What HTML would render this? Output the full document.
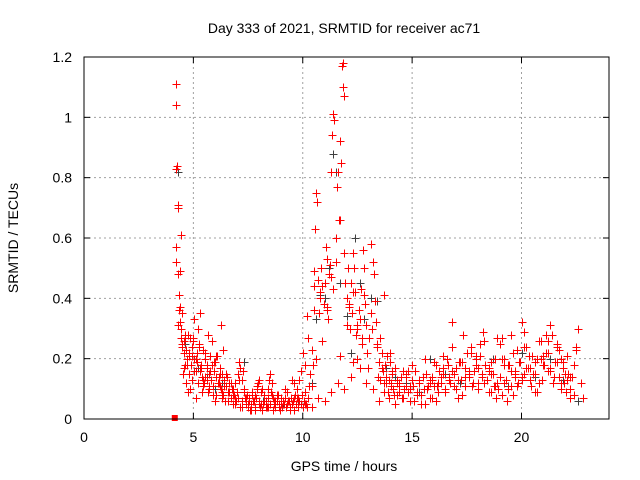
<!DOCTYPE html>
<html><head><meta charset="utf-8"><style>
body{margin:0;background:#fff;}
svg{display:block;font-family:"Liberation Sans",sans-serif;}
</style></head><body>
<svg id="chart" width="640" height="480" viewBox="0 0 640 480" xmlns="http://www.w3.org/2000/svg">
<text x="344" y="33" font-size="14" text-anchor="middle">Day 333 of 2021, SRMTID for receiver ac71</text>
<text x="344" y="471" font-size="14" text-anchor="middle">GPS time / hours</text>
<text transform="translate(18,238) rotate(-90)" font-size="14" text-anchor="middle">SRMTID / TECUs</text>
<g id="grid"></g>
<g id="ticks"></g>
<g id="black"></g>
<g id="red"></g>
<rect x="84" y="57" width="525" height="362" fill="none" stroke="#000" stroke-width="1"/>
</svg>
<script>
const xTicks=[0,5,10,15,20];
const yTicks=[0,0.2,0.4,0.6,0.8,1,1.2];
const yTickLabels=["0","0.2","0.4","0.6","0.8","1","1.2"];
const squareTime=[4.15];
const squareValue=[0.0];
const blackTimes=[4.3,4.6,5.2,5.6,6.0,6.3,6.8,7.3,8.2,9.1,9.8,10.4,10.6,10.8,11.0,11.2,11.4,11.5,11.7,12.0,12.2,12.4,12.6,12.8,13.1,13.4,13.8,14.2,14.7,15.3,15.8,16.5,17.2,18.0,18.7,19.4,20.0,20.6,21.3,21.9,22.6];
const blackValues=[0.82,0.25,0.17,0.14,0.1,0.12,0.09,0.19,0.06,0.05,0.06,0.12,0.33,0.41,0.4,0.5,0.88,0.82,0.45,0.34,0.22,0.6,0.45,0.33,0.4,0.39,0.17,0.14,0.12,0.09,0.2,0.15,0.12,0.17,0.2,0.11,0.22,0.14,0.2,0.13,0.06];
const redTimes=[
4.2,4.2,4.25,4.22,4.28,4.3,4.2,4.22,4.3,4.35,4.4,4.45,4.4,4.5,4.45,4.5,4.55,4.3,4.6,4.6,4.35,4.38,4.42,4.48,4.52,4.58,4.65,4.7,4.75,4.8,
4.85,4.9,4.95,5.0,5.05,5.1,5.15,5.2,5.25,5.3,5.35,5.4,5.45,5.5,5.55,5.6,5.65,5.7,5.75,5.8,5.85,5.9,5.95,6.0,6.05,6.1,6.15,6.2,6.25,6.3,
6.35,6.4,6.45,6.5,6.55,6.6,6.65,6.7,6.75,6.8,6.85,6.9,6.95,7.0,7.05,7.1,7.15,7.2,7.25,7.3,7.35,7.4,7.45,7.5,7.55,7.6,7.65,7.7,7.75,7.8,
7.85,7.9,7.95,8.0,8.05,8.1,8.15,8.2,8.25,8.3,8.35,8.4,8.45,8.5,8.55,8.6,8.65,8.7,8.75,8.8,8.85,8.9,8.95,9.0,9.05,9.1,9.15,9.2,9.25,9.3,
9.35,9.4,9.45,9.5,9.55,9.6,9.65,9.7,9.75,9.8,9.85,9.9,9.95,10.0,10.05,10.1,10.15,10.2,10.25,10.3,10.35,10.4,10.45,10.5,10.52,10.55,10.6,10.65,10.7,10.75,
10.8,10.85,10.9,10.95,11.0,11.05,11.1,11.15,11.2,11.25,11.3,11.35,11.4,11.45,11.5,11.55,11.6,11.65,11.7,11.75,11.8,11.82,11.85,11.9,11.95,12.0,12.05,12.1,12.15,12.2,
12.25,12.3,12.35,12.4,12.45,12.5,12.55,12.6,12.65,12.7,12.75,12.8,12.85,12.9,12.95,13.0,13.05,13.1,13.15,13.2,13.25,13.3,13.35,13.4,13.45,13.5,13.55,13.6,13.65,13.7,
13.75,13.8,13.85,13.9,13.95,14.0,14.05,14.1,14.15,14.2,14.3,14.4,14.5,14.6,14.7,14.8,14.9,15.0,15.1,15.2,15.3,15.4,15.5,15.6,15.7,15.8,15.9,16.0,16.1,16.2,
16.3,16.4,16.5,16.6,16.7,16.8,16.9,17.0,17.1,17.2,17.3,17.4,17.5,17.6,17.7,17.8,17.9,18.0,18.1,18.2,18.3,18.4,18.5,18.6,18.7,18.8,18.9,19.0,19.1,19.2,
19.3,19.4,19.5,19.6,19.7,19.8,19.9,20.0,20.1,20.2,20.3,20.4,20.5,20.6,20.7,20.8,20.9,21.0,21.1,21.2,21.3,21.4,21.5,21.6,21.7,21.8,21.9,22.0,22.1,22.2,
22.3,22.4,22.5,22.6,22.7,22.8,4.7,5.0,5.3,5.6,5.9,6.2,6.5,6.8,7.1,7.4,7.7,8.0,8.3,8.6,8.9,9.2,9.5,9.8,10.1,10.4,10.7,11.0,11.3,11.6,11.9,12.2,12.5,12.8,13.1,13.4,
13.7,14.0,14.3,14.6,14.9,15.2,15.5,15.8,16.1,16.4,16.7,17.0,17.3,17.6,17.9,18.2,18.5,18.8,19.1,19.4,19.7,20.0,20.3,20.6,20.9,21.2,21.5,21.8,22.1,22.4,
4.8,5.1,5.4,5.7,6.0,6.3,6.6,6.9,7.2,7.5,7.8,8.1,8.4,8.7,9.0,9.3,9.6,9.9,10.2,10.5,10.8,11.1,11.4,11.7,12.0,12.3,12.6,12.9,13.2,13.5,
13.8,14.1,14.4,14.7,15.0,15.3,15.6,15.9,16.2,16.5,16.8,17.1,17.4,17.7,18.0,18.3,18.6,18.9,19.2,19.5,19.8,20.1,20.4,20.7,21.0,21.3,21.6,21.9,22.2,22.5,
4.62,4.72,4.82,4.92,5.02,5.12,5.22,5.32,5.42,5.52,5.62,5.72,5.82,5.92,6.02,6.12,6.22,6.32,6.42,6.52,6.62,6.72,6.82,6.92,7.02,7.12,7.22,7.32,7.42,7.52,
7.62,7.72,7.82,7.92,8.02,8.12,8.22,8.32,8.42,8.52,8.62,8.72,8.82,8.92,9.02,9.12,9.22,9.32,9.42,9.52,9.62,9.72,9.82,9.92,10.02,10.12,10.22,10.32,10.42,10.62,
13.52,13.62,13.72,13.82,13.92,14.02,14.12,14.22,14.32,14.42,14.52,14.62,14.72,14.82,14.92,15.02,15.12,15.22,15.32,15.42,15.52,15.62,15.72,15.82,15.92,16.02,16.12,16.22,16.32,16.42,
16.52,16.62,16.72,16.82,16.92,17.02,17.12,17.22,17.32,17.42,17.52,17.62,17.72,17.82,17.92,18.02,18.12,18.22,18.32,18.42,18.52,18.62,18.72,18.82,18.92,19.02,19.12,19.22,19.32,19.42,
19.52,19.62,19.72,19.82,19.92,20.02,20.12,20.22,20.32,20.42,20.52,20.62,20.72,20.82,20.92,21.02,21.12,21.22,21.32,21.42,21.52,21.62,21.72,21.82,21.92,22.02,22.12,22.22,22.32,22.42,
22.52,22.62,22.72,22.82];
const redValues=[
1.11,1.04,0.84,0.83,0.70,0.71,0.57,0.52,0.48,0.41,0.49,0.61,0.37,0.35,0.30,0.25,0.22,0.31,0.28,0.18,0.36,0.32,0.27,0.24,0.15,0.26,0.23,0.20,0.28,0.22,
0.10,0.18,0.24,0.27,0.20,0.16,0.22,0.30,0.25,0.35,0.18,0.14,0.23,0.12,0.20,0.17,0.09,0.15,0.21,0.13,0.18,0.11,0.16,0.19,0.14,0.21,0.12,0.17,0.10,0.15,
0.08,0.13,0.06,0.11,0.14,0.09,0.12,0.07,0.10,0.05,0.08,0.12,0.06,0.09,0.15,0.19,0.17,0.13,0.16,0.10,0.07,0.05,0.08,0.04,0.06,0.03,0.05,0.08,0.06,0.04,
0.07,0.10,0.12,0.06,0.04,0.09,0.03,0.05,0.08,0.06,0.04,0.10,0.13,0.15,0.09,0.12,0.07,0.05,0.04,0.06,0.08,0.05,0.03,0.07,0.04,0.06,0.05,0.07,0.04,0.05,
0.06,0.04,0.07,0.05,0.06,0.03,0.08,0.05,0.07,0.04,0.06,0.05,0.08,0.04,0.06,0.09,0.05,0.04,0.07,0.11,0.15,0.23,0.18,0.36,0.49,0.63,0.75,0.72,0.46,0.35,
0.42,0.50,0.26,0.38,0.45,0.57,0.37,0.33,0.48,0.51,0.82,0.94,1.01,0.99,0.60,0.77,0.82,0.66,0.92,0.85,1.17,1.18,1.10,1.07,0.45,0.40,0.50,0.38,0.30,0.45,
0.35,0.55,0.50,0.42,0.28,0.20,0.36,0.33,0.43,0.25,0.56,0.50,0.38,0.31,0.22,0.17,0.27,0.35,0.30,0.52,0.48,0.39,0.32,0.24,0.14,0.19,0.27,0.22,0.16,0.12,
0.18,0.14,0.21,0.09,0.13,0.19,0.11,0.15,0.08,0.17,0.12,0.09,0.14,0.07,0.11,0.16,0.10,0.13,0.06,0.09,0.12,0.08,0.14,0.05,0.10,0.13,0.07,0.11,0.18,0.09,
0.12,0.15,0.10,0.20,0.14,0.32,0.11,0.17,0.13,0.19,0.08,0.14,0.22,0.16,0.24,0.12,0.18,0.10,0.21,0.15,0.26,0.13,0.17,0.09,0.15,0.20,0.12,0.25,0.27,0.18,
0.13,0.10,0.16,0.08,0.14,0.11,0.19,0.32,0.29,0.24,0.17,0.13,0.21,0.15,0.20,0.12,0.26,0.18,0.22,0.16,0.31,0.28,0.14,0.19,0.23,0.12,0.17,0.15,0.21,0.10,
0.14,0.18,0.24,0.30,0.12,0.07,0.20,0.26,0.16,0.13,0.08,0.11,0.15,0.10,0.13,0.07,0.09,0.05,0.06,0.08,0.04,0.10,0.13,0.07,0.05,0.04,0.07,0.06,0.09,0.12,
0.10,0.14,0.30,0.41,0.58,0.25,0.41,0.22,0.13,0.16,0.11,0.09,0.14,0.12,0.06,0.17,0.13,0.10,0.19,0.15,0.21,0.14,0.16,0.11,0.20,0.18,0.15,0.13,0.17,0.19,
0.20,0.26,0.14,0.10,0.13,0.08,0.15,0.07,0.09,0.11,0.06,0.09,0.06,0.07,0.04,0.05,0.03,0.05,0.04,0.06,0.05,0.09,0.12,0.16,0.34,0.44,0.40,0.53,0.43,0.21,
0.31,0.19,0.17,0.12,0.10,0.06,0.12,0.16,0.11,0.15,0.18,0.13,0.20,0.14,0.12,0.09,0.16,0.07,0.11,0.22,0.17,0.12,0.19,0.27,0.20,0.11,0.23,0.15,0.17,0.09,
0.21,0.17,0.25,0.19,0.14,0.23,0.27,0.18,0.21,0.13,0.16,0.20,0.12,0.17,0.11,0.14,0.18,0.10,0.13,0.16,0.08,0.12,0.15,0.07,0.11,0.14,0.09,0.12,0.08,0.05,
0.07,0.04,0.06,0.09,0.05,0.07,0.03,0.06,0.08,0.11,0.13,0.10,0.06,0.04,0.07,0.05,0.03,0.06,0.08,0.04,0.07,0.05,0.04,0.06,0.03,0.05,0.07,0.10,0.13,0.16,
0.22,0.18,0.27,0.15,0.11,0.20,0.13,0.17,0.09,0.14,0.07,0.12,0.10,0.05,0.08,0.12,0.07,0.10,0.14,0.09,0.06,0.11,0.16,0.08,0.12,0.05,0.10,0.15,0.11,0.07,
0.13,0.19,0.11,0.16,0.14,0.21,0.09,0.18,0.12,0.24,0.15,0.10,0.19,0.13,0.28,0.17,0.22,0.14,0.11,0.16,0.20,0.12,0.25,0.29,0.18,0.13,0.09,0.15,0.11,0.07,
0.10,0.14,0.08,0.12,0.06,0.18,0.28,0.22,0.16,0.12,0.19,0.14,0.24,0.17,0.21,0.11,0.15,0.09,0.20,0.26,0.13,0.18,0.28,0.22,0.16,0.12,0.19,0.24,0.14,0.20,
0.12,0.09,0.15,0.07];
const peakTimes=[4.5,4.55,4.65,4.75,4.85,4.95,5.05,5.15,5.25,5.35,5.45,5.55,5.65,5.75,5.85,5.95,6.05,6.15,6.25,6.35,10.9,11.1,11.3,11.5,11.7,11.9,12.1,12.3,12.5,12.7];
const peakValues=[0.25,0.17,0.12,0.09,0.27,0.21,0.33,0.19,0.24,0.17,0.13,0.22,0.28,0.16,0.26,0.19,0.21,0.14,0.31,0.23,0.44,0.36,0.47,0.52,0.66,0.55,0.37,0.42,0.31,0.27];
const X0=84,X1=609,Y0=419,Y1=57,XMAX=24,YMAX=1.2;
const NS="http://www.w3.org/2000/svg";
function sx(t){return X0+(X1-X0)*t/XMAX;}
function sy(v){return Y0-(Y0-Y1)*v/YMAX;}
function mk(tag,attrs,parent){const e=document.createElementNS(NS,tag);for(const k in attrs)e.setAttribute(k,attrs[k]);parent.appendChild(e);return e;}
const grid=document.getElementById('grid'),ticks=document.getElementById('ticks');
xTicks.forEach((t,i)=>{
 const x=sx(t);
 if(i>0){const g=mk('line',{x1:x,x2:x,y1:Y0,y2:Y1,stroke:'#a0a0a0','stroke-dasharray':'2,3'},grid);
 
 }
 mk('line',{x1:x,x2:x,y1:Y0,y2:Y0-6,stroke:'#000'},ticks);
 mk('line',{x1:x,x2:x,y1:Y1,y2:Y1+6,stroke:'#000'},ticks);
 const l=mk('text',{x:x,y:442,'font-size':14,'text-anchor':'middle'},ticks);l.textContent=String(t);
 
 
});
yTicks.forEach((v,i)=>{
 const y=sy(v);
 if(i>0&&i<yTicks.length-1){const g=mk('line',{x1:X0,x2:X1,y1:y,y2:y,stroke:'#a0a0a0','stroke-dasharray':'2,3'},grid);
 
 }
 mk('line',{x1:X0,x2:X0+6,y1:y,y2:y,stroke:'#000'},ticks);
 mk('line',{x1:X1,x2:X1-6,y1:y,y2:y,stroke:'#000'},ticks);
 const l=mk('text',{x:72,y:y+5,'font-size':14,'text-anchor':'end'},ticks);l.textContent=yTickLabels[i];
 
 
});
function plus(g,t,v,c){
 const x=Math.round(sx(t))+0.5,y=Math.round(sy(v))+0.5;
 const p=mk('path',{d:`M${x-4},${y}H${x+4}M${x},${y-4}V${y+4}`,stroke:c,'stroke-width':1,fill:'none'},g);
 
 
}
const bg=document.getElementById('black'),rg=document.getElementById('red');
blackTimes.forEach((t,i)=>plus(bg,t,blackValues[i],'#404040'));
redTimes.forEach((t,i)=>plus(rg,t,redValues[i],'#ff0000'));
peakTimes.forEach((t,i)=>plus(rg,t,peakValues[i],'#ff0000'));
squareTime.forEach((t,i)=>{
 const s=mk('rect',{x:sx(t)-3,y:sy(squareValue[i])-4,width:6,height:6,fill:'#ff0000'},rg);
 
 
});
</script>
</body></html>
